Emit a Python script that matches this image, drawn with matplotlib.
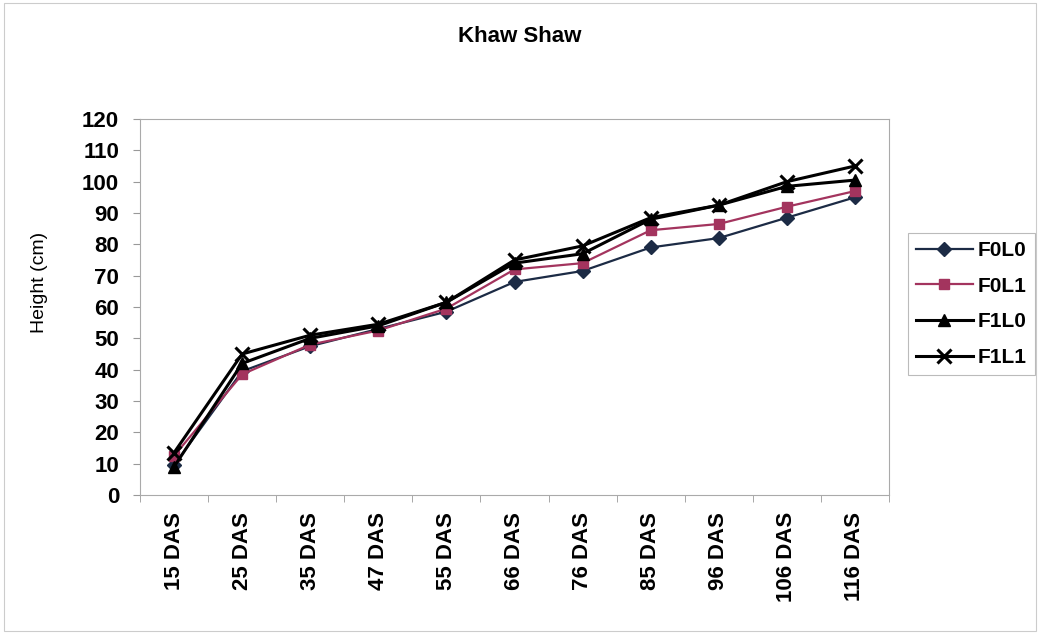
import matplotlib.pyplot as plt
import numpy as np

plt.rcParams['font.family'] = ['Liberation Sans', 'DejaVu Sans']

days = ['15 DAS', '25 DAS', '35 DAS', '47 DAS', '55 DAS', '66 DAS',
        '76 DAS', '85 DAS', '96 DAS', '106 DAS', '116 DAS']
f0l0 = [9.5, 39.5, 47.5, 53, 58.5, 68, 71.5, 79, 82, 88.5, 95]
f0l1 = [12.5, 38.5, 48, 52.5, 59.5, 72, 74, 84.5, 86.5, 92, 97]
f1l0 = [9, 42, 50, 54, 61.5, 74, 77, 88, 92.5, 98.5, 100.5]
f1l1 = [13.5, 45, 51, 54.5, 61.5, 75, 79.5, 88.5, 92.5, 100, 105]

fig = plt.figure(figsize=(10.4, 6.34), dpi=100)
ax = fig.add_axes([140 / 1040, 1 - 495 / 634, 749 / 1040, 376 / 634])

x = np.arange(len(days))
ax.plot(x, f0l0, color='#1c2b45', lw=1.6, marker='D', ms=7, label='F0L0')
ax.plot(x, f0l1, color='#a3345e', lw=1.6, marker='s', ms=7, label='F0L1')
ax.plot(x, f1l0, color='black', lw=2.2, marker='^', ms=9, label='F1L0')
ax.plot(x, f1l1, color='black', lw=2.2, marker='x', ms=10, mew=2.2, label='F1L1')

ax.set_xlim(-0.5, len(days) - 0.5)
ax.set_ylim(0, 120)
ax.set_yticks(range(0, 121, 10))
ax.set_yticklabels([str(v) for v in range(0, 121, 10)], fontsize=16, fontweight='bold')
ax.set_xticks(x)
ax.set_xticklabels(days, rotation=90, fontsize=16, fontweight='bold')
ax.tick_params(axis='x', length=0, pad=12)
ax.set_xticks(np.arange(-0.5, len(days), 1), minor=True)
ax.tick_params(axis='x', which='minor', length=5, color='#999999')
ax.tick_params(axis='y', length=5, color='#999999', pad=10)
for s in ax.spines.values():
    s.set_color('#aaaaaa')
    s.set_linewidth(0.8)

fig.text(40 / 1040, 1 - 282 / 634, 'Height (cm)', rotation=90, ha='center',
         va='center', fontsize=14)
fig.text(0.5, 1 - 37 / 634, 'Khaw Shaw', ha='center', va='center',
         fontsize=16, fontweight='bold')

leg = fig.legend(loc='center left', bbox_to_anchor=(908 / 1040, 1 - 304 / 634),
                 frameon=True, fancybox=False, edgecolor='#aaaaaa',
                 prop={'size': 15, 'weight': 'bold'}, handlelength=2.7,
                 handletextpad=0.25, labelspacing=0.8, borderpad=0.4,
                 borderaxespad=0)
leg.get_frame().set_linewidth(0.8)

# outer chart border
fig.patches.append(plt.Rectangle((0.004, 0.004), 0.992, 0.992, transform=fig.transFigure,
                                 fill=False, edgecolor='#cccccc', lw=0.8))

fig.savefig('out.png', dpi=100)
